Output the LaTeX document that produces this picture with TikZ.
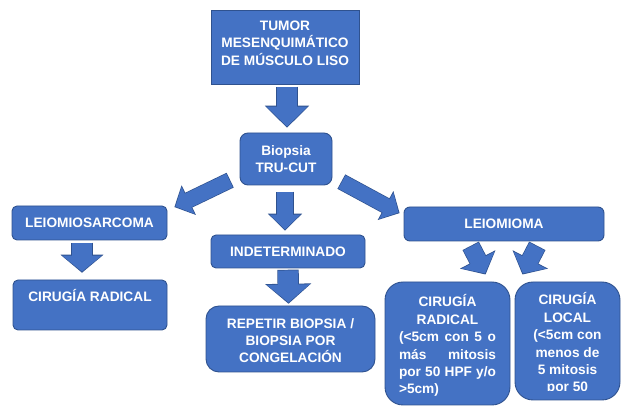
\documentclass[tikz,border=0pt]{standalone}
\usepackage{fontspec}
\setmainfont{Liberation Sans}
\usetikzlibrary{arrows.meta, positioning, calc}
\definecolor{azul}{HTML}{4472C4}
\definecolor{borde}{HTML}{2F528F}

\begin{document}
\begin{tikzpicture}[
  x=1pt, y=-1pt,
  font=\fontsize{13.7}{17.4}\selectfont\bfseries,
  caja/.style={rectangle, draw=borde, fill=azul, line width=0.9pt, text=white,
               align=center, inner sep=0pt},
  flecha/.style n args={3}{azul, line width=#1, -{Triangle[length=#2, width=#3]},
    preaction={draw=borde, line width=#1+1.4pt, -{Triangle[length=#2+2pt, width=#3+3pt]},
               shorten >=-1.2pt, shorten <=-0.7pt}},
]
  \useasboundingbox (0,0) rectangle (625,406);

  % ── Nivel 1: tumor y biopsia ───────────────────────────────────────────────
  \node[caja, minimum width=148pt, minimum height=74pt] (tumor) at (285,47)
    {\raisebox{2.5pt}[\height][\depth]{\begin{tabular}{@{}c@{}}TUMOR\\MESENQUIMÁTICO\\DE MÚSCULO LISO\end{tabular}}};

  \node[caja, rounded corners=8pt, minimum width=92pt, minimum height=52pt] (biop) at (286,159)
    {Biopsia\\TRU-CUT};

  % ── Nivel 2: diagnósticos ──────────────────────────────────────────────────
  \node[caja, rounded corners=5pt, minimum width=155pt, minimum height=34pt] (sarc) at (89.5,223)
    {LEIOMIOSARCOMA};

  \node[caja, rounded corners=5pt, minimum width=154pt, minimum height=33pt] (indet) at (288,251.5)
    {INDETERMINADO};

  \node[caja, rounded corners=6pt, minimum width=200pt, minimum height=34pt] (mioma) at (504,224)
    {LEIOMIOMA};

  % ── Nivel 3: conducta ──────────────────────────────────────────────────────
  \node[caja, rounded corners=5pt, minimum width=154pt, text height=22pt, text depth=28pt] (radizq) at (90,305)
    {CIRUGÍA RADICAL};

  \node[caja, rounded corners=13pt, minimum width=169pt, minimum height=66pt] (repetir) at (290.5,339)
    {\raisebox{-3pt}[\height][\depth]{\begin{tabular}{@{}c@{}}REPETIR BIOPSIA /\\BIOPSIA POR\\CONGELACIÓN\end{tabular}}};

  \node[caja, rounded corners=18pt, minimum width=125pt, minimum height=123pt] (radder) at (447.5,343.5)
    {\raisebox{-3.5pt}[\height][\depth]{\begin{tabular}{@{}c@{}}CIRUGÍA\\RADICAL\\\makebox[97pt][s]{(<5cm con 5 o}\\
     \makebox[97pt][s]{más mitosis}\\\makebox[97pt][s]{por 50 HPF y/o}\\\makebox[97pt][l]{>5cm)}\end{tabular}}};

  \node[caja, rounded corners=18pt, minimum width=105pt, minimum height=118pt] (local) at (567.5,341)
    {\raisebox{-4pt}[\height][\depth]{\begin{tabular}{@{}c@{}}CIRUGÍA\\LOCAL\\(<5cm con\\menos de\\5 mitosis\\por 50\end{tabular}}};
  % texto cortado por el borde inferior
  \fill[azul] ($(local.south west)+(20,-9.5)$) rectangle ($(local.south east)+(-18,-1.5)$);

  % ── Flechas ────────────────────────────────────────────────────────────────
  \draw[flecha={20pt}{20pt}{40pt}] ($(tumor.south)+(2,3)$) -- ($(biop.north)+(1,-6)$);
  \draw[flecha={15pt}{14pt}{29pt}] ($(biop.south west)+(-10,-5)$) -- ($(sarc.north east)+(8,1)$);
  \draw[flecha={16pt}{15pt}{30pt}] ($(biop.south)+(-1,7)$) -- ($(indet.north)+(-3,-5)$);
  \draw[flecha={15pt}{14pt}{29pt}] ($(biop.south east)+(9.5,-3.5)$) -- ($(mioma.north west)+(-5,6)$);
  \draw[flecha={20pt}{16pt}{39pt}] ($(sarc.south)+(-7.5,3)$) -- ($(radizq.north)+(-8,-8)$);
  \draw[flecha={20pt}{18pt}{42pt}] ($(indet.south)+(0,2)$) -- ($(repetir.north)+(-2,-3)$);
  \draw[flecha={17pt}{15pt}{36pt}] ($(mioma.south)+(-33,5)$) -- ($(mioma.south)+(-19,32)$);
  \draw[flecha={17pt}{15pt}{36pt}] ($(mioma.south)+(33,5)$) -- ($(mioma.south)+(19,32)$);
\end{tikzpicture}
\end{document}
